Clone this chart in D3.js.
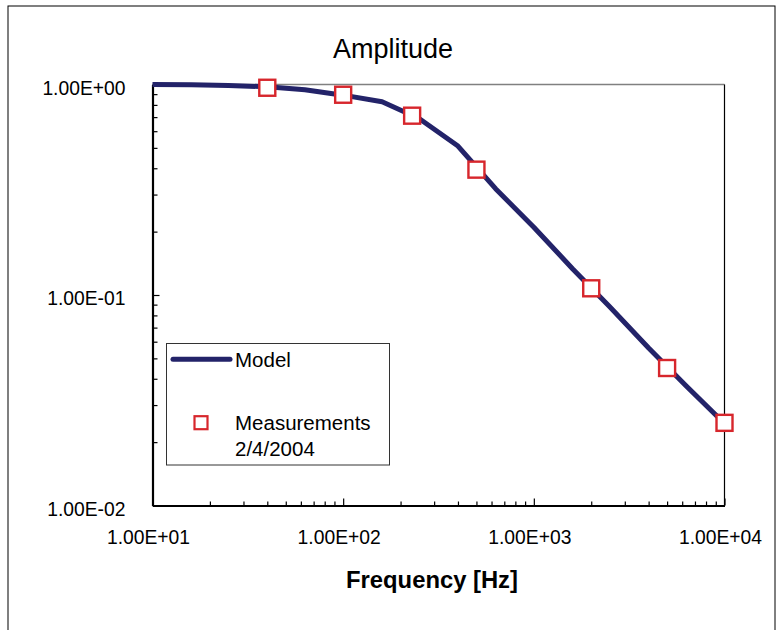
<!DOCTYPE html>
<html>
<head>
<meta charset="utf-8">
<script src="https://cdn.jsdelivr.net/npm/d3@7"></script>
<style>
  body { margin: 0; background: #fff; }
  svg { display: block; font-family: "Liberation Sans", Arial, sans-serif; }
</style>
</head>
<body>
<svg id="chart" width="781" height="630"></svg>
<script>
// ---- data ----
const modelFreq = [10, 16, 25, 40, 63, 100, 160, 250, 400, 630, 1000, 1600, 2500, 4000, 6300, 10000];
const modelAmp  = [1.0, 0.998, 0.99, 0.975, 0.945, 0.89, 0.828, 0.69, 0.51, 0.32, 0.21, 0.133, 0.088, 0.056, 0.037, 0.0245];
const measFreq  = [40, 100, 230, 500, 2000, 5000, 10000];
const measAmp   = [0.965, 0.894, 0.711, 0.394, 0.1076, 0.045, 0.0247];
const xTickValues = [10, 100, 1000, 10000];
const xTickLabels = ["1.00E+01", "1.00E+02", "1.00E+03", "1.00E+04"];
const yTickValues = [0.01, 0.1, 1];
const yTickLabels = ["1.00E-02", "1.00E-01", "1.00E+00"];
const titleText = "Amplitude";
const xTitle = "Frequency [Hz]";
const legendLabels = ["Model", "Measurements", "2/4/2004"];

// ---- layout ----
const svg = d3.select("#chart");
const L = 152.5, R = 724.5, T = 84.5, B = 505.5;
const x = d3.scaleLog().domain([10, 10000]).range([L, R]);
const y = d3.scaleLog().domain([0.01, 1]).range([B, T]);
const lineColor = "#232369", markColor = "#d7262c";

// outer frame
svg.append("rect").attr("x", 8).attr("y", 6).attr("width", 767).attr("height", 700)
  .attr("fill", "none").attr("stroke", "#000").attr("stroke-width", 1);

// title
svg.append("text").attr("x", 393).attr("y", 57.5).attr("text-anchor", "middle")
  .attr("font-size", 27).attr("fill", "#000").text(titleText);

// plot area border: top gray, right black
svg.append("line").attr("x1", L).attr("x2", R).attr("y1", T).attr("y2", T)
  .attr("stroke", "#808080").attr("stroke-width", 1.5);
svg.append("line").attr("x1", R).attr("x2", R).attr("y1", T).attr("y2", B)
  .attr("stroke", "#000").attr("stroke-width", 1.2);

// minor ticks
const minorX = [];
for (let d = 10; d < 10000; d *= 10) for (let k = 2; k <= 9; k++) minorX.push(d * k);
const minorY = [];
for (let d = 0.01; d < 0.99; d *= 10) for (let k = 2; k <= 9; k++) minorY.push(d * k);

const xAxisMinor = d3.axisBottom(x).tickValues(minorX).tickSizeInner(-4).tickSizeOuter(0).tickFormat("");
const yAxisMinor = d3.axisLeft(y).tickValues(minorY).tickSizeInner(-5).tickSizeOuter(0).tickFormat("");
const gxm = svg.append("g").attr("transform", `translate(0,${B})`).call(xAxisMinor);
const gym = svg.append("g").attr("transform", `translate(${L},0)`).call(yAxisMinor);
[gxm, gym].forEach(g => { g.select(".domain").remove(); g.selectAll("line").attr("stroke", "#000").attr("stroke-width", 1.2); });

// major axes
const xAxis = d3.axisBottom(x).tickValues(xTickValues).tickSizeInner(-7).tickSizeOuter(0)
  .tickFormat((d, i) => xTickLabels[i]).tickPadding(0);
const yAxis = d3.axisLeft(y).tickValues(yTickValues).tickSizeInner(-7).tickSizeOuter(0)
  .tickFormat((d, i) => yTickLabels[i]).tickPadding(0);
const gx = svg.append("g").attr("transform", `translate(0,${B})`).call(xAxis);
const gy = svg.append("g").attr("transform", `translate(${L},0)`).call(yAxis);
[gx, gy].forEach(g => {
  g.select(".domain").attr("stroke", "#000").attr("stroke-width", 2.2);
  g.selectAll("line").attr("stroke", "#000").attr("stroke-width", 1.2);
  g.selectAll("text").attr("font-size", 19.3).attr("fill", "#000")
    .attr("font-family", "'Liberation Sans', Arial, sans-serif");
});
gx.selectAll("text").attr("dy", null).attr("y", 38).attr("x", -4.5);
gy.selectAll("text").attr("dy", null).attr("x", -27).attr("y", 9.5);

// axis title
svg.append("text").attr("x", 432).attr("y", 588).attr("text-anchor", "middle")
  .attr("font-size", 23.8).attr("font-weight", "bold").attr("fill", "#000").text(xTitle);

// model line
const modelData = modelFreq.map((f, i) => [f, modelAmp[i]]);
svg.append("path").datum(modelData)
  .attr("d", d3.line().x(d => x(d[0])).y(d => y(d[1])))
  .attr("fill", "none").attr("stroke", lineColor).attr("stroke-width", 5)
  .attr("stroke-linejoin", "round");

// measurement markers
const ms = 16;
svg.append("g").selectAll("rect").data(measFreq.map((f, i) => [f, measAmp[i]])).join("rect")
  .attr("x", d => x(d[0]) - ms / 2).attr("y", d => y(d[1]) - ms / 2)
  .attr("width", ms).attr("height", ms)
  .attr("fill", "#fff").attr("stroke", markColor).attr("stroke-width", 2.4);

// legend
const lg = svg.append("g");
lg.append("rect").attr("x", 166.5).attr("y", 343.5).attr("width", 223).attr("height", 121.5)
  .attr("fill", "#fff").attr("stroke", "#333").attr("stroke-width", 1);
lg.append("line").attr("x1", 173).attr("x2", 230).attr("y1", 359.3).attr("y2", 359.3)
  .attr("stroke", lineColor).attr("stroke-width", 5).attr("stroke-linecap", "round");
lg.append("rect").attr("x", 201 - 6.5).attr("y", 422.7 - 6.5).attr("width", 13).attr("height", 13)
  .attr("fill", "#fff").attr("stroke", markColor).attr("stroke-width", 2.2);
const ly = [367, 429.5, 455.5];
legendLabels.forEach((t, i) => {
  lg.append("text").attr("x", 235).attr("y", ly[i]).attr("font-size", 20.5).attr("fill", "#000").text(t);
});
</script>
</body>
</html>
